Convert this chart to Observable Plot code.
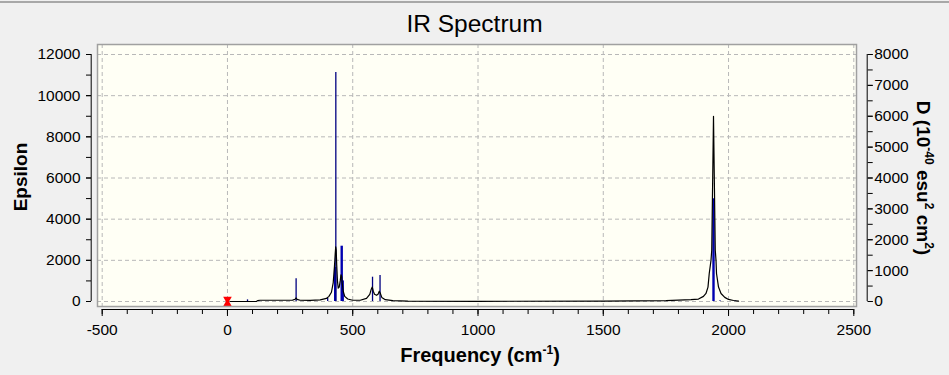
<!DOCTYPE html>
<html>
<head>
<meta charset="utf-8">
<script src="https://cdn.jsdelivr.net/npm/d3@7"></script>
<script src="https://cdn.jsdelivr.net/npm/@observablehq/plot@0.6"></script>
<style>
  html, body { margin: 0; padding: 0; background: #f0f0f0; }
  #wrap { position: relative; width: 949px; height: 375px; background: #f0f0f0; overflow: hidden;
          font-family: "Liberation Sans", Arial, sans-serif; color: #000; }
  #topline { position: absolute; left: 0; top: 1px; width: 949px; border-top: 2px solid #a8a8a8; }
  #title { position: absolute; left: 0; top: 10px; width: 949px; text-align: center; font-size: 24.5px; }
  #chart { position: absolute; left: 0; top: 40px; }
  .axt { position: absolute; font-weight: bold; font-size: 19px; white-space: nowrap; line-height: 1; }
  .axt sup { font-size: 12px; position: relative; top: -1px; }
</style>
</head>
<body>
<div id="wrap">
  <div id="topline"></div>
  <div id="title">IR Spectrum</div>
  <div id="chart"></div>
  <div class="axt" style="left:20px;top:177px;transform:translate(-50%,-50%) rotate(-90deg);">Epsilon</div>
  <div class="axt" style="left:924px;top:178px;transform:translate(-50%,-50%) rotate(90deg);">D (10<sup>-40</sup> esu<sup>2</sup> cm<sup>2</sup>)</div>
  <div class="axt" style="left:480px;top:355px;font-size:20px;transform:translate(-50%,-50%);">Frequency (cm<sup>-1</sup>)</div>
</div>
<script>
// ---- data ----
const curveFreq = [10,115,120,130,200,260,270,274,278,290,330,370,395,405,415,422,427,430,432,434,436,439,442,446,450,453,456,458,462,468,480,500,530,555,568,574,578,582,587,595,601,606,610,616,630,660,720,1000,1500,1750,1850,1880,1900,1910,1918,1923,1930,1933,1937,1940,1943,1947,1950,1952,1960,1970,1985,2000,2020,2040];
const curveEps  = [0,0,40,60,60,70,110,170,100,60,50,80,150,250,450,900,1700,2300,2650,2500,1800,1000,650,700,1000,1300,1200,900,500,250,120,60,60,150,350,600,700,500,350,300,350,500,400,200,90,40,20,10,15,40,90,120,250,390,700,1360,2000,2500,6200,9000,6200,2500,2000,1360,700,390,200,100,50,20];

// sticks (right axis units, D)
const stickFreqNarrow = [80, 274, 400, 432.5, 579, 609, 1966, 2026];
const stickDNarrow    = [53, 735, 100, 7417, 787, 842, 27, 27];
const stickFreqBroad  = [430, 456, 460, 1940];
const stickDBroad     = [1100, 1791, 667, 3327];

const markerFreq = [0];

const xMajorTicks = [-500, 0, 500, 1000, 1500, 2000, 2500];
const epsTicks = [0, 2000, 4000, 6000, 8000, 10000, 12000];
const dTicks = [0, 1000, 2000, 3000, 4000, 5000, 6000, 7000, 8000];
const epsPerD = 1.5; // right axis 8000 D == left axis 12000 epsilon

// ---- layout ----
const xMinor = d3.range(-500, 2501, 100);
const epsMinor = d3.range(0, 12001, 1000);
const dMinor = d3.range(0, 8001, 500);
const W = 949, H = 335, mL = 97, mR = 93, mT = 4, mB = 69;
const xPxPerU = (853.3 - 101.7) / 3000;
const xLo = -500 - 4.7 / xPxPerU, xHi = 2500 + 2.7 / xPxPerU;
const yPxPerU = 247 / 12000;
const yLo = -5 / yPxPerU, yHi = 12000 + 10 / yPxPerU;

const curve = curveFreq.map((f, i) => ({f, e: curveEps[i]}));
const narrow = stickFreqNarrow.map((f, i) => ({f, e: stickDNarrow[i] * epsPerD}));
const broad = stickFreqBroad.map((f, i) => ({f, e: stickDBroad[i] * epsPerD}));

const grid = {stroke: "#b8b8b8", strokeOpacity: 1, strokeDasharray: "4,3", strokeWidth: 1};

const chart = Plot.plot({
  width: W, height: H,
  marginLeft: mL, marginRight: mR, marginTop: mT, marginBottom: mB,
  style: {background: "transparent", fontFamily: "Liberation Sans, Arial, sans-serif", fontSize: "15.5px", color: "#000", overflow: "visible"},
  x: {domain: [xLo, xHi]},
  y: {domain: [yLo, yHi]},
  marks: [
    Plot.frame({fill: "#fffff5", stroke: null}),
    Plot.gridX(xMajorTicks, grid),
    Plot.gridY(epsTicks, grid),
    Plot.ruleX(broad, {x: "f", y1: 0, y2: "e", stroke: "#0000b0", strokeWidth: 2.4}),
    Plot.ruleX(narrow, {x: "f", y1: 0, y2: "e", stroke: "#000080", strokeWidth: 1.3}),
    Plot.line(curve, {x: "f", y: "e", stroke: "#000", strokeWidth: 1.2}),
    Plot.dot(markerFreq, {x: d => d, y: 0, symbol: "triangle", r: 3.2, fill: "#ff0000", stroke: null, rotate: 180, dy: -2.2}),
    Plot.dot(markerFreq, {x: d => d, y: 0, symbol: "triangle", r: 3.2, fill: "#ff0000", stroke: null, dy: 2.2}),
    Plot.frame({stroke: "#a0a0a0", strokeWidth: 1.5}),
    // x axis
    Plot.ruleY([yLo], {x1: -500, x2: 2500, dy: 3, stroke: "#000"}),
    Plot.axisX(xMinor, {anchor: "bottom", tickSize: 5, dy: 3, tickFormat: () => "", label: null}),
    Plot.axisX(xMajorTicks, {anchor: "bottom", tickSize: 7, tickPadding: 7, dy: 3, tickFormat: d => String(d), label: null}),
    // left axis
    Plot.ruleX([xLo], {y1: 0, y2: 12000, dx: -6.3, stroke: "#000"}),
    Plot.axisY(epsMinor, {anchor: "left", tickSize: 5, dx: -6, tickFormat: () => "", label: null}),
    Plot.axisY(epsTicks, {anchor: "left", tickSize: 5, tickPadding: 6, dx: -6, tickFormat: d => String(d), label: null}),
    // right axis (D units)
    Plot.ruleX([xHi], {y1: 0, y2: 12000, dx: 10.7, stroke: "#000"}),
    Plot.axisY(dMinor.map(d => d * epsPerD), {anchor: "right", tickSize: 5, dx: 10.7, tickFormat: () => "", label: null}),
    Plot.axisY(dTicks.map(d => d * epsPerD), {anchor: "right", tickSize: 5, tickPadding: 2, dx: 10.7, tickFormat: v => String(Math.round(v / epsPerD)), label: null})
  ]
});
document.getElementById("chart").appendChild(chart);
</script>
</body>
</html>
